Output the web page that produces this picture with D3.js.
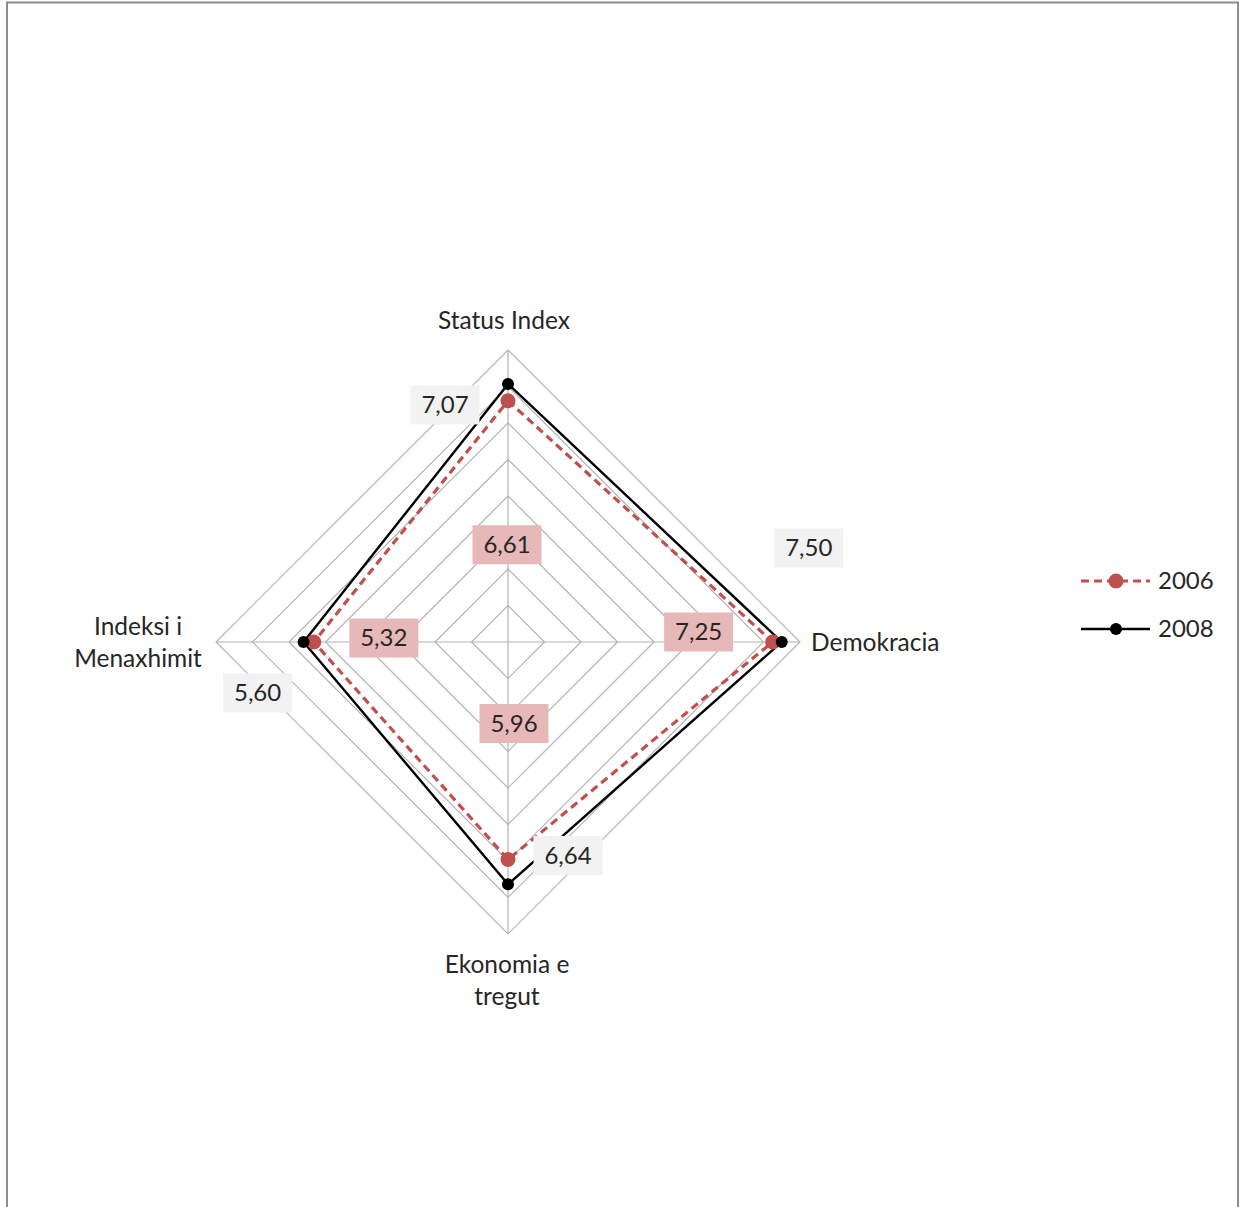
<!DOCTYPE html>
<html>
<head>
<meta charset="utf-8">
<script src="https://cdn.jsdelivr.net/npm/d3@7"></script>
<style>
  body { margin: 0; background: #fff; }
  svg { display: block; font-family: Lato, "Open Sans", sans-serif; }
</style>
</head>
<body>
<svg id="chart"></svg>
<script>
// categories and values
var axes = ["Status Index", "Demokracia", "Ekonomia e tregut", "Indeksi i Menaxhimit"];
var years = ["2006", "2008"];
var values2006 = [6.61, 7.25, 5.96, 5.32];
var values2008 = [7.07, 7.50, 6.64, 5.60];
var ringTicks = [1, 2, 3, 4, 5, 6, 7, 8];

// layout: where Excel put each value label, relative to its point
var labelShift2006 = [[-1, 144], [-74, -10], [6, -136], [70, -4]];
var labelShift2008 = [[-63, 21], [27, -94], [60, -29], [-46, 51]];

var W = 1242, H = 1207;
var cx = 508, cy = 642, R = 292;

var svg = d3.select("#chart").attr("width", W).attr("height", H);

// frame
svg.append("rect")
    .attr("x", 7).attr("y", 2.5)
    .attr("width", 1231).attr("height", H + 10)
    .attr("fill", "none")
    .attr("stroke", "#8c8c8c")
    .attr("stroke-width", 2);

var r = d3.scaleLinear().domain([0, 8]).range([0, R]);
var angle = d3.scaleBand().domain(axes).range([0, 2 * Math.PI]).align(0).paddingInner(0).paddingOuter(0);

function pos(axis, v) {
    var a = angle(axis) - Math.PI / 2;
    return [cx + r(v) * Math.cos(a), cy + r(v) * Math.sin(a)];
}

var g = svg.append("g");

// rings
g.selectAll("polygon.ring")
    .data(ringTicks)
    .enter().append("polygon")
    .attr("class", "ring")
    .attr("points", function(t){ return axes.map(function(a){ return pos(a, t).join(","); }).join(" "); })
    .attr("fill", "none")
    .attr("stroke", "#b3b3b3")
    .attr("stroke-width", 1.2);

// spokes
g.selectAll("line.spoke")
    .data(axes)
    .enter().append("line")
    .attr("class", "spoke")
    .attr("x1", cx).attr("y1", cy)
    .attr("x2", function(a){ return pos(a, 8)[0]; })
    .attr("y2", function(a){ return pos(a, 8)[1]; })
    .attr("stroke", "#b3b3b3")
    .attr("stroke-width", 1.2);

// axis labels
var axisText = [
    {lines: ["Status Index"], anchor: "middle", dx: -4, dy: -30},
    {lines: ["Demokracia"], anchor: "start", dx: 11, dy: 0},
    {lines: ["Ekonomia e", "tregut"], anchor: "middle", dx: -1, dy: 30},
    {lines: ["Indeksi i", "Menaxhimit"], anchor: "middle", dx: -78, dy: -16}
];
axes.forEach(function(a, i){
    var p = pos(a, 8);
    var t = axisText[i];
    var txt = g.append("text")
        .attr("x", p[0] + t.dx)
        .attr("y", p[1] + t.dy)
        .attr("text-anchor", t.anchor)
        .attr("font-size", 24.5)
        .attr("fill", "#262626");
    t.lines.forEach(function(l, j){
        txt.append("tspan")
            .attr("x", p[0] + t.dx)
            .attr("dy", j === 0 ? "0.35em" : 32)
            .text(l);
    });
});

var series = [
    {name: "2006", values: values2006, color: "#c0504d", dash: "8,5", width: 3.2, mr: 7.5, shift: labelShift2006, box: "#e6b9b8"},
    {name: "2008", values: values2008, color: "#000000", dash: null, width: 2.4, mr: 6, shift: labelShift2008, box: "#f2f2f2"}
];

var line = d3.line().curve(d3.curveLinearClosed);

series.forEach(function(s){
    var pts = axes.map(function(a, i){ return pos(a, s.values[i]); });
    g.append("path")
        .attr("d", line(pts))
        .attr("fill", "none")
        .attr("stroke", s.color)
        .attr("stroke-width", s.width)
        .attr("stroke-dasharray", s.dash);
});

series.forEach(function(s){
    var pts = axes.map(function(a, i){ return pos(a, s.values[i]); });
    g.selectAll(null)
        .data(pts)
        .enter().append("circle")
        .attr("cx", function(d){ return d[0]; })
        .attr("cy", function(d){ return d[1]; })
        .attr("r", s.mr)
        .attr("fill", s.color);
});

// value labels
var fmt = function(v){ return d3.format(".2f")(v).replace(".", ","); };
series.forEach(function(s){
    axes.forEach(function(a, i){
        var p = pos(a, s.values[i]);
        var x = p[0] + s.shift[i][0], y = p[1] + s.shift[i][1];
        g.append("rect")
            .attr("x", x - 34.5).attr("y", y - 19.5)
            .attr("width", 69).attr("height", 39)
            .attr("fill", s.box);
        g.append("text")
            .attr("x", x).attr("y", y)
            .attr("dy", "0.35em")
            .attr("text-anchor", "middle")
            .attr("font-size", 24)
            .attr("fill", "#262626")
            .text(fmt(s.values[i]));
    });
});

// legend
var legend = svg.append("g").attr("transform", "translate(1081,581)");
series.forEach(function(s, i){
    var row = legend.append("g").attr("transform", "translate(0," + (i * 48) + ")");
    row.append("line")
        .attr("x1", 0).attr("x2", 69)
        .attr("stroke", s.color)
        .attr("stroke-width", s.width)
        .attr("stroke-dasharray", s.dash);
    row.append("circle")
        .attr("cx", 35).attr("r", s.mr)
        .attr("fill", s.color);
    row.append("text")
        .attr("x", 77).attr("dy", "0.35em")
        .attr("font-size", 24)
        .attr("fill", "#262626")
        .text(s.name);
});
</script>
</body>
</html>
